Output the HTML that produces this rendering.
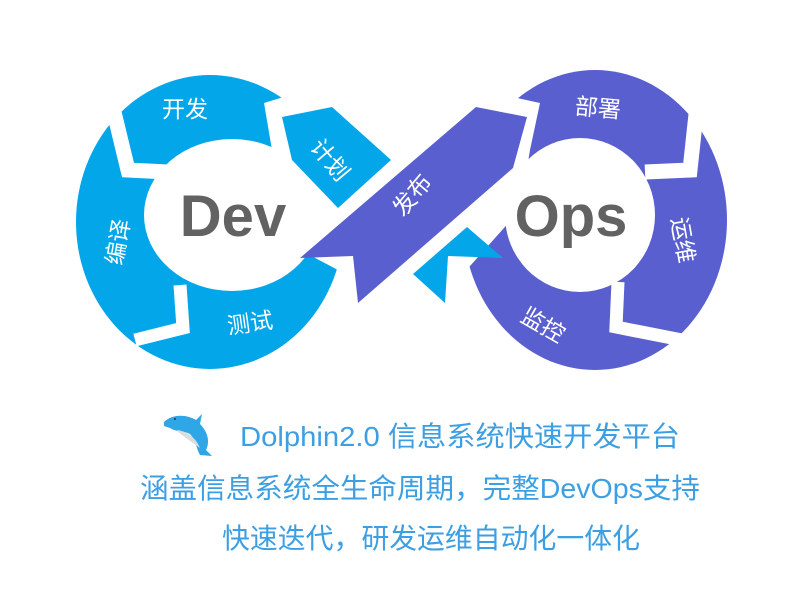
<!DOCTYPE html>
<html><head><meta charset="utf-8"><style>
html,body{margin:0;padding:0;background:#fff;width:800px;height:600px;overflow:hidden}
svg{display:block}
.t{font-family:"Liberation Sans","Noto Sans CJK SC",sans-serif;fill:#fff;font-size:23px}
.big{font-family:"Liberation Sans","Noto Sans CJK SC",sans-serif;fill:#626262;font-weight:bold;font-size:58px}
.l{font-family:"Liberation Sans","Noto Sans CJK SC",sans-serif;fill:#3d9fe3;font-size:28px}
</style></head><body>
<svg width="800" height="600" viewBox="0 0 800 600">
<!-- left ring -->
<ellipse cx="210" cy="222" rx="134" ry="147" fill="#03a6e8"/>
<ellipse cx="232" cy="215" rx="88" ry="76" fill="#fff"/>
<polygon points="264,103 313,88 330,50 430,50 430,390 338,390 338,270 300,250 272,150" fill="#fff"/>
<polyline points="113,108 128,170 168,172" fill="none" stroke="#fff" stroke-width="15"/>
<polyline points="180,285 183,328 135,340" fill="none" stroke="#fff" stroke-width="13"/>
<!-- right ring -->
<ellipse cx="595" cy="220" rx="132" ry="150" fill="#5a5fcf"/>
<ellipse cx="580" cy="215" rx="75" ry="77" fill="#fff"/>
<polygon points="490,92 540,103 530,150 520,210 462,275 462,320 455,390 380,390 380,40 480,40" fill="#fff"/>
<polyline points="697,105 690,170 645,172" fill="none" stroke="#fff" stroke-width="15"/>
<polyline points="618,282 616,327 682,340" fill="none" stroke="#fff" stroke-width="13"/>
<!-- plan piece -->
<polygon points="282,117 332,107 391,160 338,208 292,160" fill="#03a6e8"/>
<!-- release band -->
<polygon points="476,107 527,117 513,168 358,303 353,256 300,258" fill="#5a5fcf"/>
<!-- small blue arrow -->
<polygon points="467,227 503,258 448,256 445,303 413,274" fill="#03a6e8"/>
<!-- labels -->
<text class="t" x="185" y="117" text-anchor="middle">开发</text>
<text class="t" transform="translate(330,160) rotate(50)" text-anchor="middle" y="8">计划</text>
<text class="t" transform="translate(118,242) rotate(-80)" text-anchor="middle" y="8">编译</text>
<text class="t" transform="translate(250,323) rotate(-8)" text-anchor="middle" y="8">测试</text>
<text class="t" transform="translate(412,195) rotate(-50)" text-anchor="middle" y="8">发布</text>
<text class="t" transform="translate(598,108) rotate(5)" text-anchor="middle" y="8">部署</text>
<text class="t" transform="translate(683,240) rotate(80)" text-anchor="middle" y="8">运维</text>
<text class="t" transform="translate(543,325) rotate(30)" text-anchor="middle" y="8">监控</text>
<text class="big" x="233" y="236" text-anchor="middle">Dev</text>
<text class="big" x="571" y="236" text-anchor="middle">Ops</text>
<!-- dolphin -->
<g>
<path d="M164,422 C172,414 186,414 196,420 L202,414 L200,424 C208,432 210,442 206,450 L212,456 L200,455 C196,448 196,440 190,434 C182,430 176,432 170,428 L164,426 Z" fill="#2fa6e6"/>
<path d="M178,430 C188,432 196,438 200,448 C194,444 186,438 178,432 Z" fill="#d8dde2"/>
<circle cx="175" cy="419" r="1" fill="#333"/>
</g>
<text class="l" x="240" y="446" textLength="440" lengthAdjust="spacingAndGlyphs">Dolphin2.0 信息系统快速开发平台</text>
<text class="l" x="140" y="498" textLength="560" lengthAdjust="spacingAndGlyphs">涵盖信息系统全生命周期，完整DevOps支持</text>
<text class="l" x="222" y="548" textLength="418" lengthAdjust="spacingAndGlyphs">快速迭代，研发运维自动化一体化</text>
</svg>
</body></html>
